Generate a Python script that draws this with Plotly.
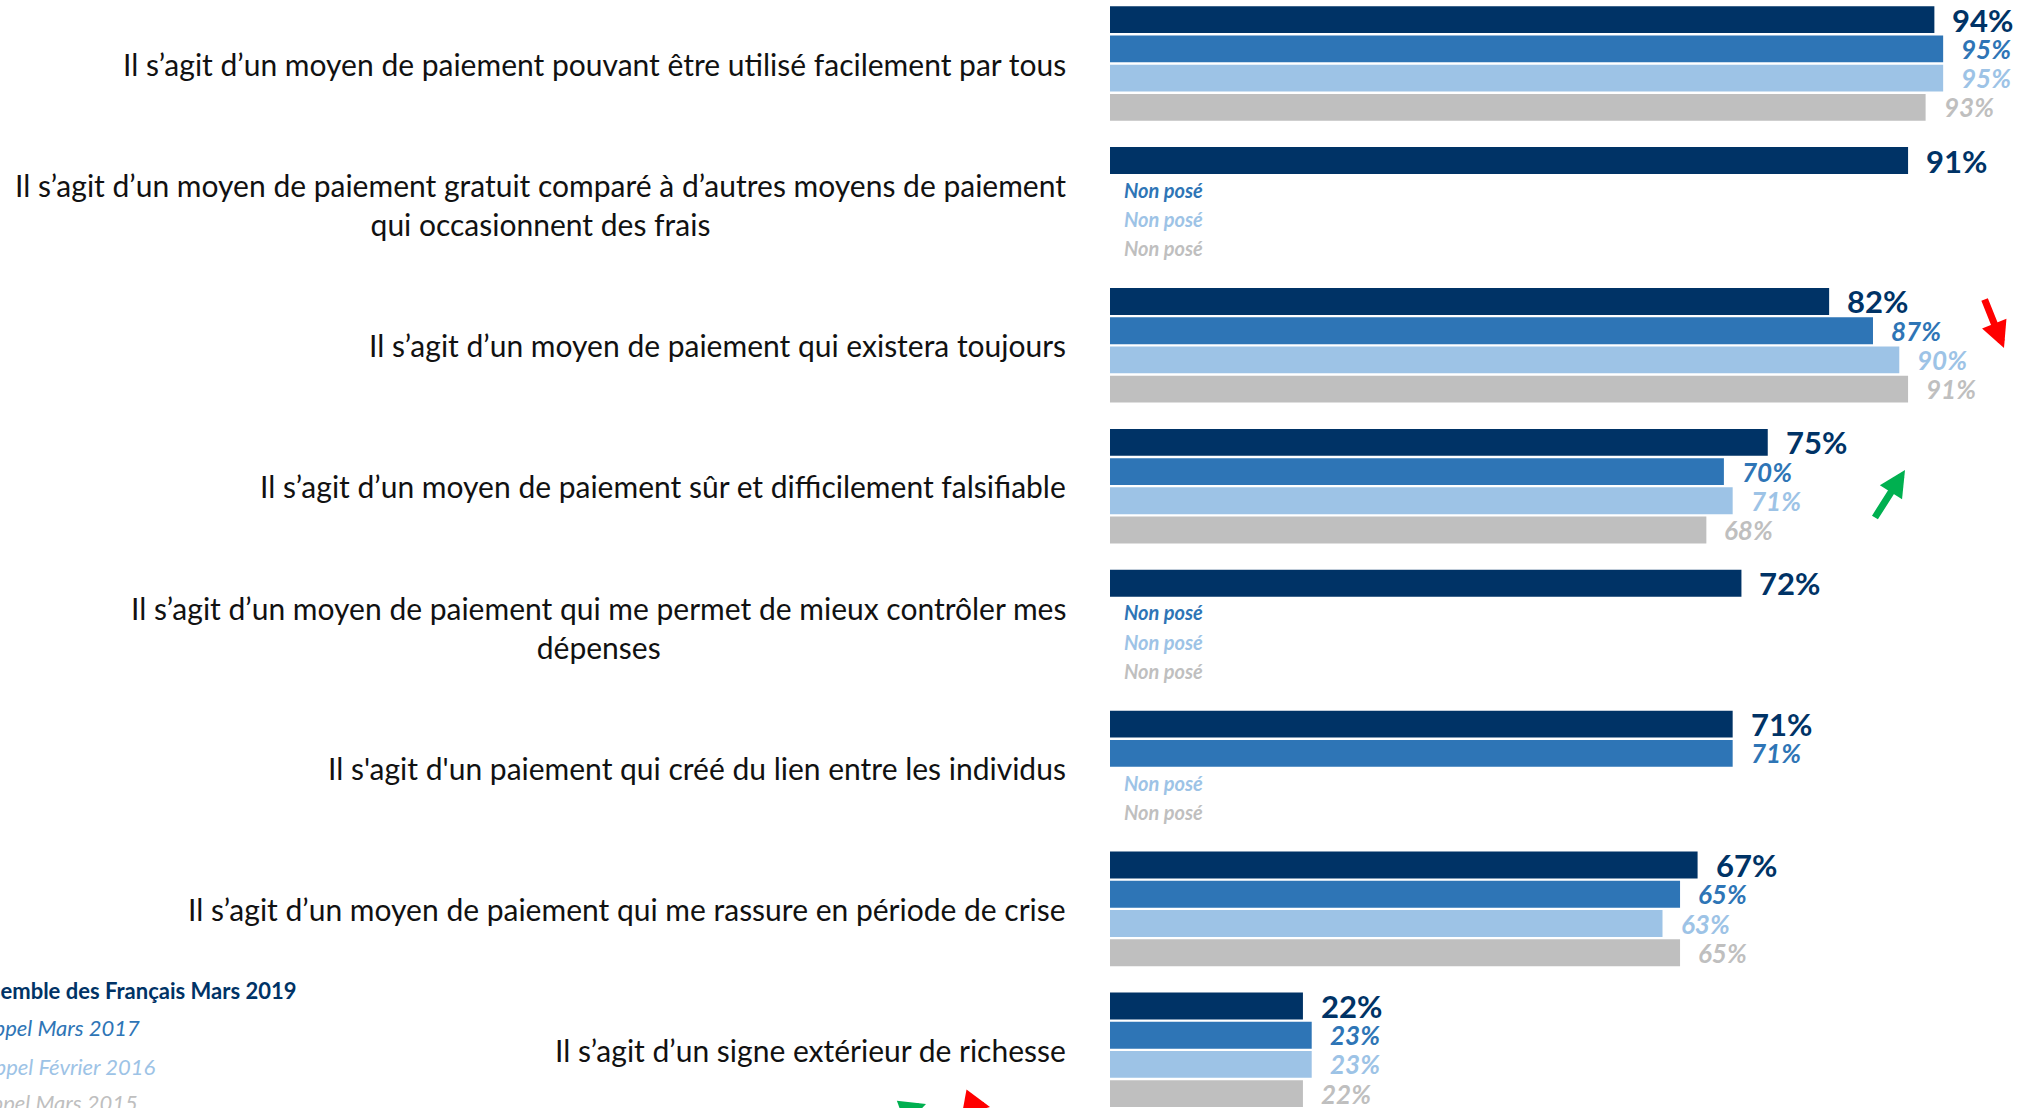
import plotly.graph_objects as go

# ---------------- data ----------------
categories = [
    "Il s’agit d’un moyen de paiement pouvant être utilisé facilement par tous",
    "Il s’agit d’un moyen de paiement gratuit comparé à d’autres moyens de paiement<br>qui occasionnent des frais",
    "Il s’agit d’un moyen de paiement qui existera toujours",
    "Il s’agit d’un moyen de paiement sûr et difficilement falsifiable",
    "Il s’agit d’un moyen de paiement qui me permet de mieux contrôler mes<br>dépenses",
    "Il s'agit d'un paiement qui créé du lien entre les individus",
    "Il s’agit d’un moyen de paiement qui me rassure en période de crise",
    "Il s’agit d’un signe extérieur de richesse",
]
series_names = [
    "Ensemble des Français Mars 2019",
    "Rappel Mars 2017",
    "Rappel Février 2016",
    "Rappel Mars 2015",
]
v2019 = [94, 91, 82, 75, 72, 71, 67, 22]
v2017 = [95, None, 87, 70, None, 71, 65, 23]
v2016 = [95, None, 90, 71, None, None, 63, 23]
v2015 = [93, None, 91, 68, None, None, 65, 22]
missing_label = "Non posé"

values = [v2019, v2017, v2016, v2015]
colors = ["#003366", "#2E75B6", "#9DC3E6", "#BFBFBF"]

# ---------------- layout constants ----------------
W, H = 2030, 1108
LEFT = 1110
BARGAP = 0.17
BARGROUPGAP = 0.08
FONT = "Lato"

fig = go.Figure()
for name, vals, col in zip(series_names, values, colors):
    fig.add_trace(go.Bar(
        y=categories, x=vals, name=name, orientation="h",
        marker=dict(color=col, line=dict(width=0)),
        hoverinfo="x+name",
    ))

annotations = []
n = len(values)
slot = (1 - BARGAP) / n
for s, (vals, col) in enumerate(zip(values, colors)):
    off = -(1 - BARGAP) / 2 + slot * (s + 0.5)
    for g, v in enumerate(vals):
        ypos = g + off
        if v is None:
            annotations.append(dict(
                x=0, y=ypos, xref="x", yref="y", text=missing_label,
                showarrow=False, xanchor="left", yanchor="middle", xshift=12,
                font=dict(family=FONT, size=20, color=col,
                          weight="bold", style="italic"),
            ))
        else:
            if s == 0:
                f = dict(family=FONT, size=31, color=col, weight="bold")
            else:
                f = dict(family=FONT, size=26, color=col, weight="bold", style="italic")
            annotations.append(dict(
                x=v, y=ypos, xref="x", yref="y", text=f"{v}%",
                showarrow=False, xanchor="left", yanchor="middle", xshift=16,
                font=f,
            ))

# category labels on the left
for g, cat in enumerate(categories):
    annotations.append(dict(
        x=0, y=g, xref="x", yref="y", text=cat, showarrow=False,
        xanchor="right", yanchor="middle", align="center", xshift=-42,
        font=dict(family=FONT, size=30, color="#111111"),
    ))

def px(xp):
    return (xp - LEFT) / (W - LEFT)

def py(yp):
    return 1 - yp / H

# legend (clipped at the left edge as in the original)
leg_right = [298, 142, 158, 140]
leg_y = [990, 1027, 1066, 1102]
for s, (name, col) in enumerate(zip(series_names, colors)):
    f = dict(family=FONT, size=22, color=col)
    if s == 0:
        f["weight"] = "bold"
    else:
        f["style"] = "italic"
    annotations.append(dict(
        x=px(leg_right[s]), y=py(leg_y[s]), xref="paper", yref="paper",
        text=name, showarrow=False, xanchor="right", yanchor="middle", font=f,
    ))

# trend arrows
arrows = [
    (2004, 348, -20, -50, "#FF0000"),
    (1905, 470, -31, 49, "#00B050"),
    (926, 1104, -11, 56, "#00B050"),
    (990, 1160, -22, -57, "#FF0000"),
]
for hx, hy, ax, ay, col in arrows:
    annotations.append(dict(
        x=px(hx), y=py(hy), xref="paper", yref="paper", text="",
        showarrow=True, arrowhead=2, arrowsize=0.75, arrowwidth=7,
        arrowcolor=col, ax=ax, ay=ay,
    ))

x_per_pct = 8.77
fig.update_layout(
    width=W, height=H,
    margin=dict(l=LEFT, r=0, t=0, b=0, pad=0),
    paper_bgcolor="white", plot_bgcolor="white",
    barmode="group", bargap=BARGAP, bargroupgap=BARGROUPGAP,
    showlegend=False,
    xaxis=dict(range=[0, (W - LEFT) / x_per_pct], visible=False, fixedrange=True),
    yaxis=dict(range=[(H - 63.5) / 140.9, -63.5 / 140.9], visible=False,
               type="category", fixedrange=True),
    annotations=annotations,
    font=dict(family=FONT),
)

fig.write_html(
    "out.html",
    config={"displayModeBar": False},
    post_script="document.body.style.margin='0';document.body.style.overflow='hidden';",
)
